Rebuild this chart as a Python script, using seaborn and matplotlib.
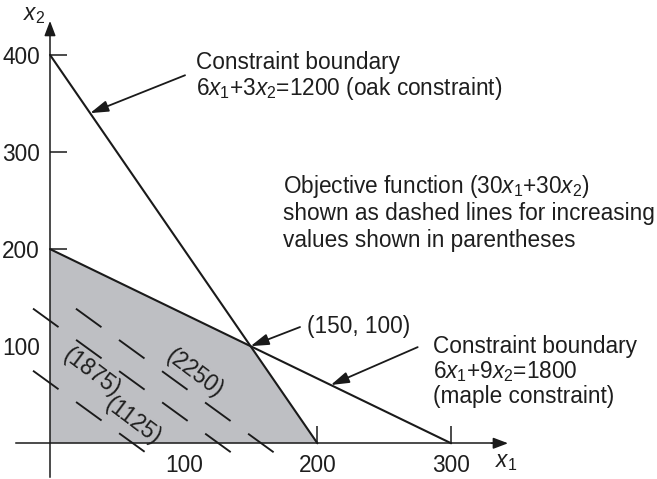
import matplotlib
matplotlib.use("Agg")
import matplotlib.pyplot as plt
import seaborn as sns
import pandas as pd

# Constraint coefficients: a*x1 + b*x2 = rhs
oak = (6, 3, 1200)
maple = (6, 9, 1800)

# Corners of the feasible region
region_x1 = [0, 0, 150, 200]
region_x2 = [0, 200, 100, 0]
optimum = (150, 100)

# Iso-profit lines x1 + x2 = level, drawn between x1 start and x1 end
iso_levels = [62, 126, 158]
iso_start = [-12.7, -12.7, 19.4]
iso_end = [71, 136, 167.5]
iso_labels = ["(1125)", "(1875)", "(2250)"]
iso_label_pos = [(61.9, 23.3), (31.2, 73.4), (108.5, 72.4)]

x_ticks = [100, 200, 300]
y_ticks = [100, 200, 300, 400]

sns.set_theme(style="white")
plt.rcParams["font.family"] = ["Liberation Sans", "DejaVu Sans"]
plt.rcParams["mathtext.fontset"] = "custom"
plt.rcParams["mathtext.rm"] = "Liberation Sans"
plt.rcParams["mathtext.it"] = "Liberation Sans:italic"
plt.rcParams["lines.scale_dashes"] = False

INK = "#1a1a1a"
TXT = "#1e1e1e"
FS = 16.3

fig = plt.figure(figsize=(6.57, 4.79), dpi=100)
ax = fig.add_axes([0, 0, 1, 1])
ax.set_xlim(-37.4, 454)
ax.set_ylim(-36.8, 456.5)
ax.set_facecolor("white")

# Feasible region
ax.fill(region_x1, region_x2, color="#bebfc3", lw=0, zorder=1)

# Constraint boundaries
for a, b, rhs in (oak, maple):
    df = pd.DataFrame({"x1": [0, rhs / a], "x2": [rhs / b, 0]})
    sns.lineplot(data=df, x="x1", y="x2", ax=ax, color=INK, lw=1.5,
                 sort=False, estimator=None, zorder=3)

# Dashed objective contours
for lvl, s, e in zip(iso_levels, iso_start, iso_end):
    df = pd.DataFrame({"x1": [s, e], "x2": [lvl - s, lvl - e]})
    sns.lineplot(data=df, x="x1", y="x2", ax=ax, color=INK, lw=1.35,
                 linestyle=(0, (22.7, 15.6)), sort=False, estimator=None,
                 zorder=3)

for txt, (px, py) in zip(iso_labels, iso_label_pos):
    ax.text(px, py, txt, fontsize=FS, color=TXT, rotation=-37,
            rotation_mode="anchor", ha="center", va="center", zorder=4)

# Axes through the origin
for side in ("top", "right"):
    ax.spines[side].set_visible(False)
ax.spines["left"].set_position(("data", 0))
ax.spines["bottom"].set_position(("data", 0))
ax.spines["left"].set_bounds(-34.4, 425)
ax.spines["bottom"].set_bounds(-25.6, 335)
for side in ("left", "bottom"):
    ax.spines[side].set_color(INK)
    ax.spines[side].set_linewidth(1.1)
    ax.spines[side].set_zorder(5)

arrow_axis = dict(arrowstyle="-|>,head_length=0.45,head_width=0.17",
                  mutation_scale=20, color=INK, lw=1.1,
                  shrinkA=0, shrinkB=0)
ax.annotate("", xy=(0, 435), xytext=(0, 420), arrowprops=arrow_axis)
ax.annotate("", xy=(342.6, 0), xytext=(330, 0), arrowprops=arrow_axis)

ax.set_xticks(x_ticks)
ax.set_yticks(y_ticks)
ax.set_xticklabels([str(v) for v in x_ticks])
ax.set_yticklabels([str(v) for v in y_ticks])
ax.tick_params(axis="both", direction="in", length=12.2, width=1.1,
               color=INK, labelsize=FS, labelcolor=TXT)
ax.tick_params(axis="x", pad=7.5, bottom=True)
ax.tick_params(axis="y", pad=7.2, left=True)
ax.set_xlabel("")
ax.set_ylabel("")

ax.text(332.8, -25, "$x_1$", fontsize=FS, color=TXT, va="baseline")
ax.text(-20.2, 436, "$x_2$", fontsize=FS, color=TXT, va="baseline")

# Annotations
arrow_note = dict(arrowstyle="-|>,head_length=0.55,head_width=0.17",
                  mutation_scale=20, color=INK, lw=1.3,
                  shrinkA=0, shrinkB=0)
ax.annotate("", xy=(30, 340), xytext=(101, 379), arrowprops=arrow_note)
ax.annotate("", xy=optimum, xytext=(187, 119.7), arrowprops=arrow_note)
ax.annotate("", xy=(210, 60), xytext=(275, 99), arrowprops=arrow_note)

ax.text(109.2, 385.5, "Constraint boundary", fontsize=FS, color=TXT,
        va="baseline")
ax.text(109.2, 358.7, "6$x_1$+3$x_2$=1200 (oak constraint)", fontsize=FS,
        color=TXT, va="baseline")

ax.text(174.3, 257.8, "Objective function (30$x_1$+30$x_2$)", fontsize=FS,
        color=TXT, va="baseline")
ax.text(174.3, 230.0, "shown as dashed lines for increasing", fontsize=FS,
        color=TXT, va="baseline")
ax.text(174.3, 202.2, "values shown in parentheses", fontsize=FS,
        color=TXT, va="baseline")

ax.text(192.2, 113.6, f"({optimum[0]}, {optimum[1]})", fontsize=FS,
        color=TXT, va="baseline")

ax.text(286.5, 93.0, "Constraint boundary", fontsize=FS, color=TXT,
        va="baseline")
ax.text(286.5, 67.3, "6$x_1$+9$x_2$=1800", fontsize=FS, color=TXT,
        va="baseline")
ax.text(286.5, 41.5, "(maple constraint)", fontsize=FS, color=TXT,
        va="baseline")

fig.savefig("out.png", dpi=100, facecolor="white")
